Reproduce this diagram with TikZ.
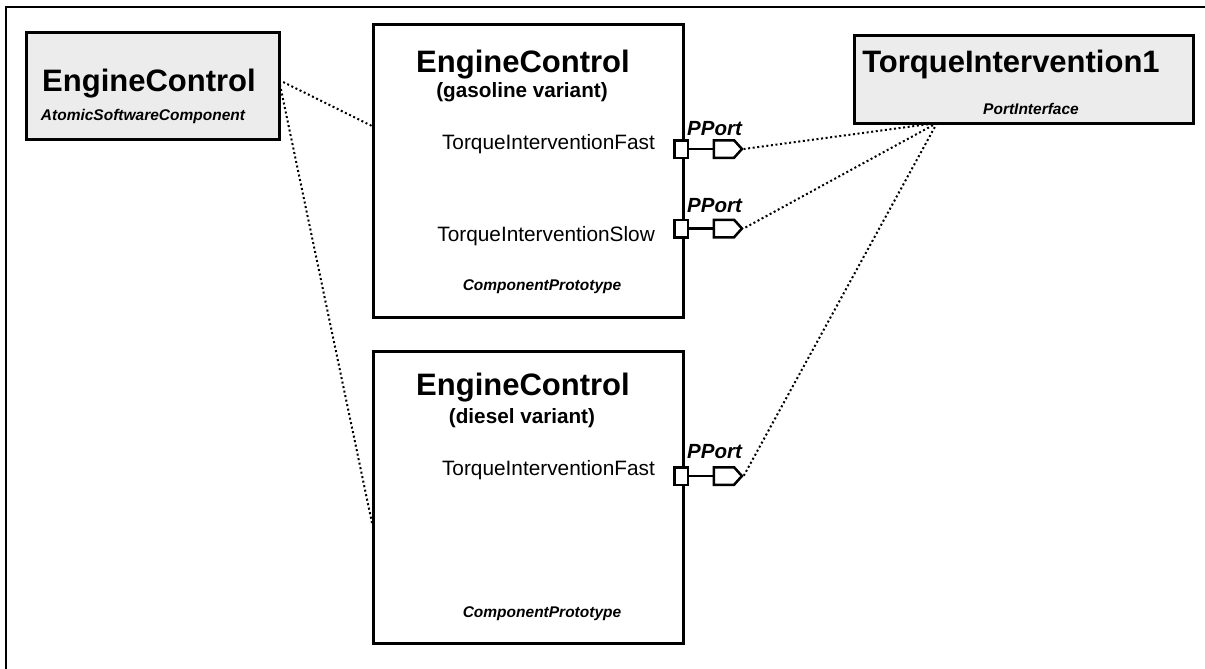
\documentclass[tikz,border=0pt]{standalone}
\usepackage{fontspec}
\setmainfont{Liberation Sans}
\usetikzlibrary{shapes.symbols}
\definecolor{boxgray}{HTML}{ECECEC}
\begin{document}
\begin{tikzpicture}[x=1pt,y=-1pt,
  box/.style={draw=black, line width=2.8pt, inner sep=0pt, anchor=north west},
  graybox/.style={box, fill=boxgray},
  bigtitle/.style={font=\fontsize{31}{33}\selectfont\bfseries, anchor=base, inner sep=0pt},
  subtitle/.style={font=\fontsize{20.7}{22}\selectfont\bfseries, anchor=base, inner sep=0pt},
  kind/.style={font=\fontsize{15.5}{17}\selectfont\bfseries\itshape, anchor=base, inner sep=0pt},
  portname/.style={font=\fontsize{20.8}{22}\selectfont, anchor=base east, inner sep=0pt},
  pportlbl/.style={font=\fontsize{20.5}{22}\selectfont\bfseries\itshape, anchor=base west, inner sep=0pt},
  portsq/.style={draw=black, fill=white, line width=2.5pt, minimum width=13.5pt, minimum height=17.5pt, inner sep=0pt},
  porttip/.style={draw=black, fill=white, line width=2.5pt, signal, signal to=east, signal pointer angle=96, minimum width=28pt, minimum height=17.5pt, inner sep=0pt},
  portlink/.style={line width=2.5pt},
  dots/.style={line width=2pt, dash pattern=on 2pt off 2.6pt}
]
\useasboundingbox (0,0) rectangle (1205,669);
% outer frame
\coordinate (fbl) at (6,669);
\coordinate (ftl) at (6,7);
\coordinate (ftr) at (1205,7);
\draw[line width=2.8pt] (fbl) -- (ftl) -- (ftr);

% AtomicSoftwareComponent
\node[graybox, minimum width=253pt, minimum height=107pt] (asw) at (25,31) {};
\node[bigtitle] (aswtitle) at (149,92) {EngineControl};
\node[kind] (aswkind) at (143,121) {AtomicSoftwareComponent};

% PortInterface
\node[graybox, minimum width=339pt, minimum height=88pt] (ti) at (853,34) {};
\node[bigtitle] (tititle) at (1011,73) {TorqueIntervention1};
\node[kind] (tikind) at (1031,114) {PortInterface};

% gasoline prototype
\node[box, minimum width=310pt, minimum height=293pt] (gas) at (372,23) {};
\node[bigtitle] (gastitle) at (523,73) {EngineControl};
\node[subtitle] (gassub) at (522,98) {(gasoline variant)};
\node[portname] (gasfast) at (655,149) {TorqueInterventionFast};
\node[portname] (gasslow) at (655,241) {TorqueInterventionSlow};
\node[kind] (gaskind) at (542,290) {ComponentPrototype};

% diesel prototype
\node[box, minimum width=310pt, minimum height=292pt] (dsl) at (372,350) {};
\node[bigtitle] (dsltitle) at (523,395) {EngineControl};
\node[subtitle] (dslsub) at (522,423) {(diesel variant)};
\node[portname] (dslfast) at (655,475) {TorqueInterventionFast};
\node[kind] (dslkind) at (542,617) {ComponentPrototype};

% ports
\node[portsq] (p1) at (681,149) {};
\node[porttip] (t1) at (724,149) {};
\draw[portlink] (p1.east) -- (t1.west);
\node[pportlbl] (l1) at (687,135) {PPort};

\node[portsq] (p2) at (681,228.5) {};
\node[porttip] (t2) at (724,228.5) {};
\draw[portlink] (p2.east) -- (t2.west);
\node[pportlbl] (l2) at (687,212) {PPort};

\node[portsq] (p3) at (681,476) {};
\node[porttip] (t3) at (724,476) {};
\draw[portlink] (p3.east) -- (t3.west);
\node[pportlbl] (l3) at (687,458) {PPort};

% dotted relations
\coordinate (aswout) at (279,80);
\coordinate (gasin) at (372,126);
\coordinate (dslin) at (372,523);
\draw[dots] (aswout) -- (gasin);
\draw[dots] (aswout) -- (dslin);

\coordinate (tihub) at (937,123);
\draw[dots] (tihub) -- (t1.east);
\draw[dots] (tihub) -- (t2.east);
\draw[dots] (tihub) -- (t3.east);
\end{tikzpicture}
\end{document}
